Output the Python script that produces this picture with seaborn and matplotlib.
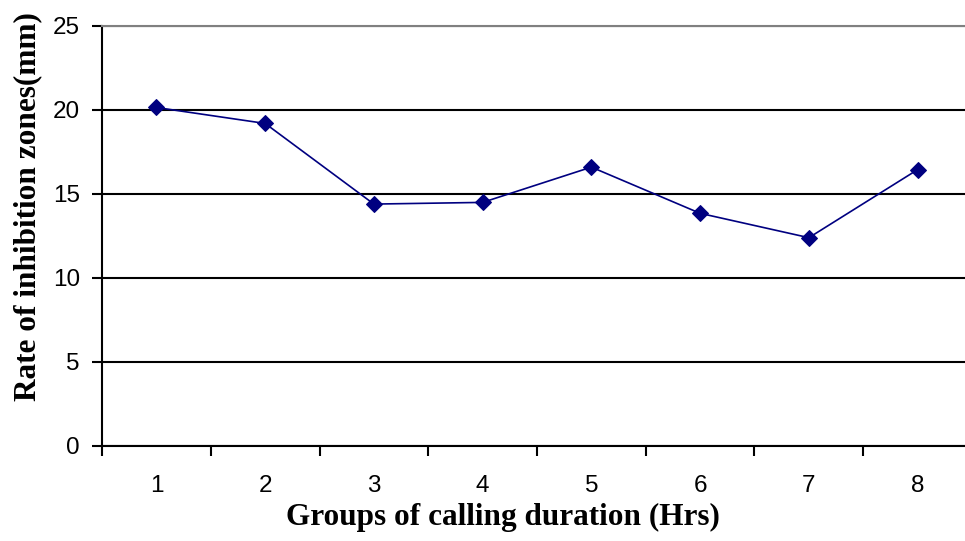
import numpy as np
import pandas as pd
import matplotlib
matplotlib.use("Agg")
import matplotlib.pyplot as plt
import seaborn as sns

# Datos
grupos = ["1", "2", "3", "4", "5", "6", "7", "8"]
inhibicion = [20.15, 19.2, 14.4, 14.5, 16.6, 13.85, 12.4, 16.45]

df = pd.DataFrame({"grupo": grupos, "zona": inhibicion})

sns.set_style("white")
plt.rcParams["font.family"] = ["Liberation Sans", "DejaVu Sans"]
plt.rcParams["text.color"] = "black"
plt.rcParams["xtick.color"] = "black"
plt.rcParams["ytick.color"] = "black"
plt.rcParams["axes.labelcolor"] = "black"

fig = plt.figure(figsize=(9.65, 5.41), dpi=100)
ax = fig.add_axes([102 / 965, 1 - 446 / 541, 870 / 965, 420 / 541])

pos = np.arange(len(grupos))
sns.lineplot(x=pos, y=df["zona"], ax=ax, color="#000080", marker="D",
             markersize=8, markeredgecolor="#000080", linewidth=1.2)

ax.set_xlim(-0.5, len(grupos) - 0.5)
ax.set_ylim(0, 25)
ax.set_yticks(range(0, 26, 5))
ax.yaxis.grid(True, color="black", linewidth=1.5)
ax.set_axisbelow(True)

ax.set_xticks(pos)
ax.set_xticklabels(grupos)
ax.set_xticks(np.arange(-0.5, len(grupos)), minor=True)
ax.tick_params(axis="x", which="major", length=0, labelsize=17.5, pad=21)
ax.tick_params(axis="x", which="minor", length=7, width=1.5, direction="out", color="black", bottom=True)
ax.tick_params(axis="y", length=7, width=1.5, direction="out", color="black", labelsize=17.5, left=True, pad=9)

for s in ["left", "bottom"]:
    ax.spines[s].set_color("black")
    ax.spines[s].set_linewidth(1.5)
ax.spines["top"].set_color("#808080")
ax.spines["top"].set_linewidth(1.5)
ax.spines["right"].set_visible(False)

ax.set_xlabel("Groups of calling duration (Hrs)", fontfamily="Liberation Serif",
              fontweight="bold", fontsize=22.5, va="center")
ax.set_ylabel("Rate of inhibition zones(mm)", fontfamily="Liberation Serif",
              fontweight="bold", fontsize=22.5, va="center")
ax.xaxis.set_label_coords(0.461, -0.171)
ax.yaxis.set_label_coords(-0.085, 0.569)

fig.savefig("out.png", dpi=100)
